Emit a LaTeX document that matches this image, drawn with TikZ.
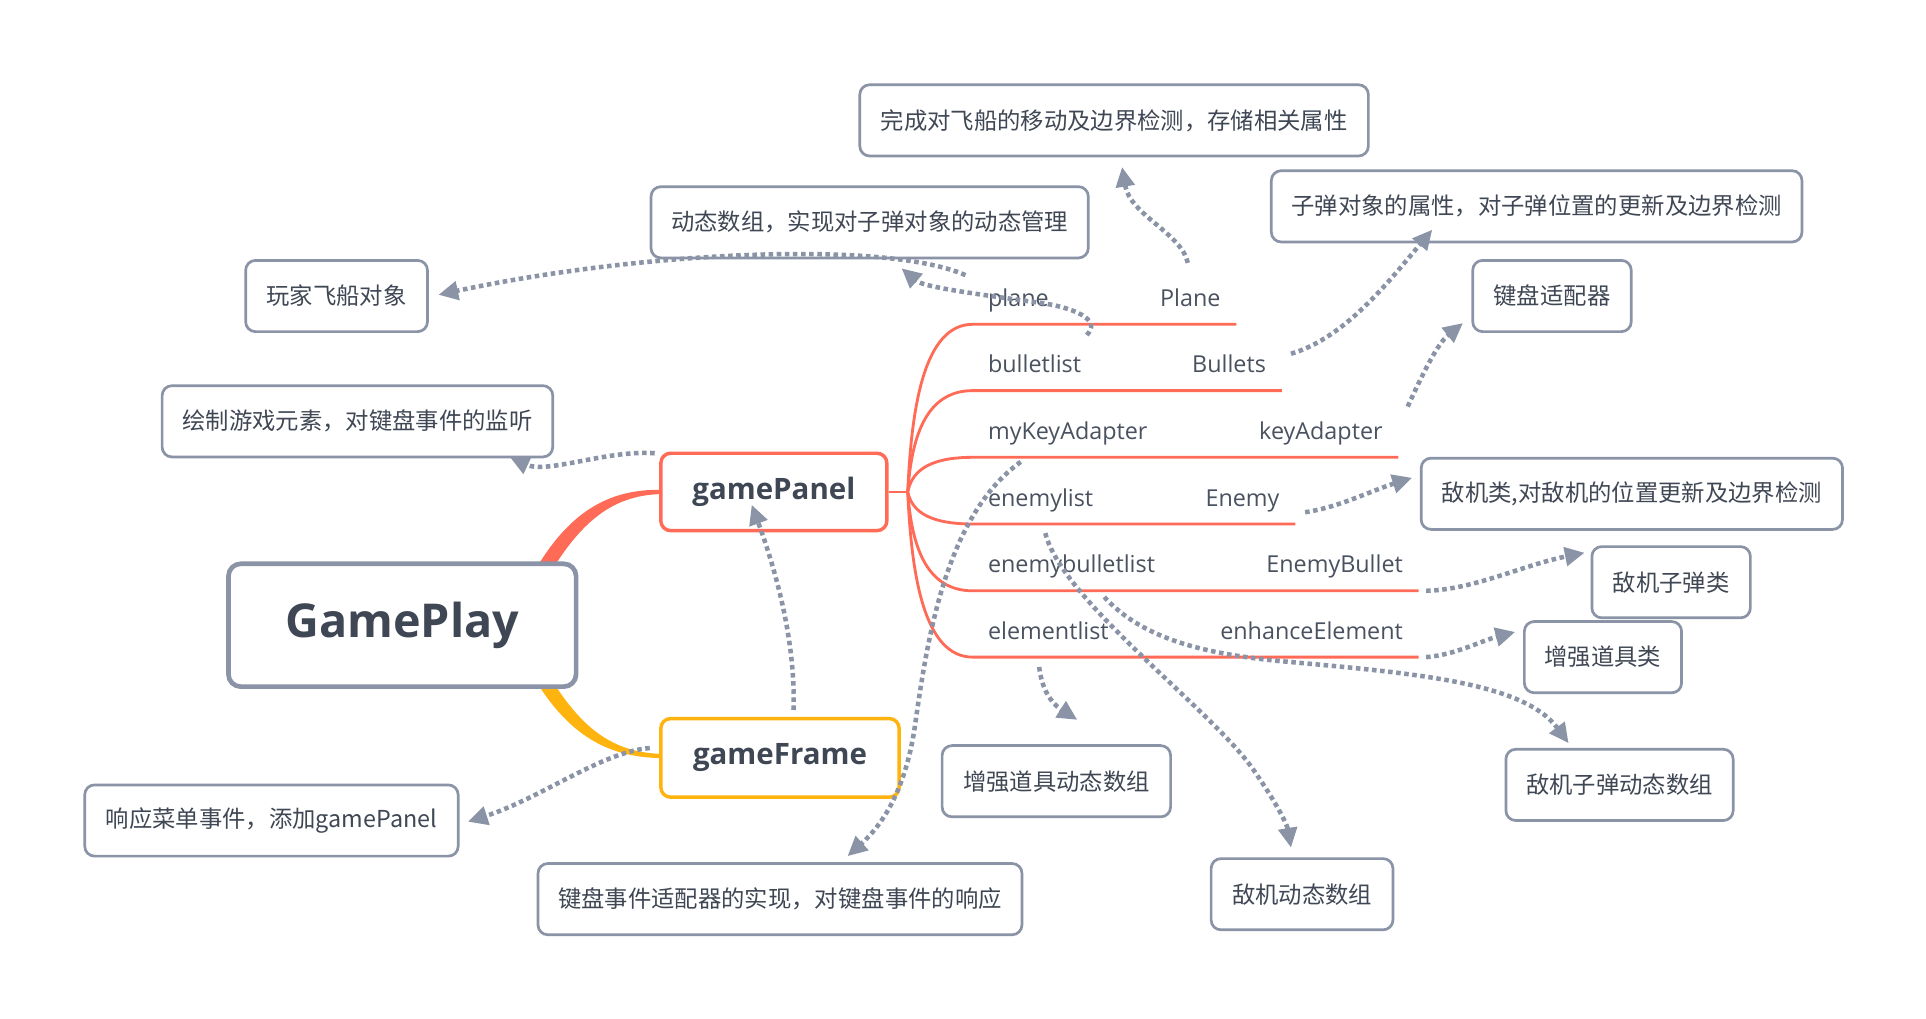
\documentclass[tikz,border=0pt]{standalone}
\usepackage{fontspec}
\setmainfont{Open Sans}
\newfontfamily\cjk{Noto Sans CJK SC}
\usetikzlibrary{arrows.meta}
\definecolor{gline}{HTML}{8A94A6}
\definecolor{redc}{HTML}{FF6B57}
\definecolor{yelc}{HTML}{FFB30F}
\definecolor{txt}{HTML}{404754}
\definecolor{lbl}{HTML}{4A5260}
\begin{document}
\begin{tikzpicture}[x=0.5pt,y=-0.5pt,
  gbox/.style={draw=gline, line width=1.1pt, rounded corners=4pt, fill=white, inner sep=0pt,
    minimum height=29pt, text=txt, font=\cjk\fontsize{9.5pt}{11pt}\selectfont},
  rel/.style={draw=gline, line width=1.85pt, dash pattern=on 1.85pt off 1.45pt,
    -{Triangle[length=8pt,width=7.5pt]}},
  brline/.style={draw=redc, line width=1.15pt},
  lab/.style={inner sep=0pt, text=lbl, font=\fontsize{9.5pt}{11pt}\selectfont},
  topicbox/.style={line width=1.4pt, rounded corners=4pt, fill=white, inner sep=0pt,
    text=txt, font=\bfseries\fontsize{12pt}{14pt}\selectfont},
]
\fill[white] (0,0) rectangle (1568,829);
\useasboundingbox (0,0) rectangle (1568,829);

% tapered main branches
\fill[redc] (428,478) .. controls (458,420) and (492,397.5) .. (540,398.8)
  -- (540,402.2) .. controls (496,402.5) and (468,428) .. (438,484) -- cycle;
\fill[yelc] (428,540) .. controls (458,596) and (492,617) .. (540,617.2)
  -- (540,613.8) .. controls (496,613) and (468,590) .. (438,534) -- cycle;

% central topics
\node[draw=gline, line width=1.9pt, rounded corners=5pt, fill=white, inner sep=0pt,
  minimum width=141.5pt, minimum height=50pt, text=txt,
  font=\bfseries\fontsize{19pt}{22pt}\selectfont] (root) at (327.5,509) {GamePlay};
\node[topicbox, draw=redc, minimum width=92pt, minimum height=31.5pt] (gp) at (630,400.5) {gamePanel};
\node[topicbox, draw=yelc, minimum width=97pt, minimum height=32pt] (gf) at (635,617) {gameFrame};

% sub-branches of gamePanel
\coordinate (jn) at (739,400.5);
\draw[brline] (gp.east) -- (jn);
\foreach \yy/\xe/\nm in {264/1006.5/pl, 318/1043.5/bl, 372.3/1138.5/ka, 426.6/1054.5/el, 481/1155/eb, 535/1155/ee}{
  \draw[brline] (jn) .. controls (742,{(400.5+\yy)/2}) and (752,\yy) .. (792,\yy) -- (\xe,\yy) coordinate (\nm);
}
\node[lab, anchor=base west] (lplane) at (804,249.4) {plane};
\node[lab, anchor=base east] (rplane) at (994,249.4) {Plane};
\node[lab, anchor=base west] (lbullet) at (804,303.4) {bulletlist};
\node[lab, anchor=base east] (rbullet) at (1031,303.4) {Bullets};
\node[lab, anchor=base west] (lkey) at (804,357.7) {myKeyAdapter};
\node[lab, anchor=base east] (rkey) at (1126,357.7) {keyAdapter};
\node[lab, anchor=base west] (lenemy) at (804,412) {enemylist};
\node[lab, anchor=base east] (renemy) at (1042,412) {Enemy};
\node[lab, anchor=base west] (lebul) at (804,466.4) {enemybulletlist};
\node[lab, anchor=base east] (rebul) at (1142.5,466.4) {EnemyBullet};
\node[lab, anchor=base west] (lelem) at (804,520.4) {elementlist};
\node[lab, anchor=base east] (relem) at (1142.5,520.4) {enhanceElement};

% note boxes
\node[gbox, minimum width=207pt] (b1) at (907,98) {完成对飞船的移动及边界检测，存储相关属性};
\node[gbox, minimum width=178pt] (b2) at (708,181) {动态数组，实现对子弹对象的动态管理};
\node[gbox, minimum width=216pt] (b3) at (1251,168) {子弹对象的属性，对子弹位置的更新及边界检测};
\node[gbox, minimum width=74pt] (b4) at (274,241) {玩家飞船对象};
\node[gbox, minimum width=64.5pt] (b5) at (1263.5,241) {键盘适配器};
\node[gbox, minimum width=159pt] (b6) at (291,343) {绘制游戏元素，对键盘事件的监听};
\node[gbox, minimum width=171.5pt] (b7) at (1328.5,402) {敌机类,对敌机的位置更新及边界检测};
\node[gbox, minimum width=64.5pt] (b8) at (1360.5,474) {敌机子弹类};
\node[gbox, minimum width=64pt] (b9) at (1305,535) {增强道具类};
\node[gbox, minimum width=93pt] (b10) at (860,636) {增强道具动态数组};
\node[gbox, minimum width=92.5pt] (b11) at (1318.5,639) {敌机子弹动态数组};
\node[gbox, minimum width=152pt] (b12) at (221,668) {响应菜单事件，添加gamePanel};
\node[gbox, minimum width=197pt] (b13) at (635,732) {键盘事件适配器的实现，对键盘事件的响应};
\node[gbox, minimum width=74pt] (b14) at (1060,728) {敌机动态数组};

% relationship end points
\coordinate (a0) at (884.7,272.7); \coordinate (a1) at (734,218.5);
\coordinate (bb0) at (786,224);    \coordinate (bb1) at (357,240);
\coordinate (c0) at (967,214);     \coordinate (c1) at (913.5,136);
\coordinate (d0) at (1051,288);    \coordinate (d1) at (1166,187);
\coordinate (e0) at (1146,331);    \coordinate (e1) at (1191,263);
\coordinate (f0) at (1062.5,417);  \coordinate (f1) at (1149.5,389);
\coordinate (g0) at (1161,481);    \coordinate (g1) at (1290,450);
\coordinate (h0) at (1161,535);    \coordinate (h1) at (1233.5,514.5);
\coordinate (i0) at (899,486);     \coordinate (i1) at (1277,605);
\coordinate (j0) at (851,434);     \coordinate (j1) at (1051,690);
\coordinate (k0) at (846,543);     \coordinate (k1) at (877,586);
\coordinate (l0) at (646,578);     \coordinate (l1) at (612,411);
\coordinate (m0) at (533,369);     \coordinate (m1) at (415,372);
\coordinate (n0) at (529,609);     \coordinate (n1) at (381,669);
\coordinate (o0) at (831,376);     \coordinate (o1) at (690,697);

% relationships
\draw[rel] (a0) .. controls (896,262) and (880,252) .. (850,247) .. controls (800,240) and (752,234) .. (a1);
\draw[rel] (bb0) .. controls (720,195) and (520,205) .. (bb1);
\draw[rel] (c0) .. controls (962,190) and (920,175) .. (c1);
\draw[rel] (d0) .. controls (1095,275) and (1130,230) .. (d1);
\draw[rel] (e0) .. controls (1158,305) and (1170,280) .. (e1);
\draw[rel] (f0) .. controls (1090,413) and (1115,400) .. (f1);
\draw[rel] (g0) .. controls (1200,480) and (1240,460) .. (g1);
\draw[rel] (h0) .. controls (1185,533) and (1205,522) .. (h1);
\draw[rel] (i0) .. controls (930,520) and (980,532) .. (1040,538) .. controls (1150,548) and (1240,555) .. (i1);
\draw[rel] (j0) .. controls (865,490) and (990,580) .. (1022,629) .. controls (1040,655) and (1048,672) .. (j1);
\draw[rel] (k0) .. controls (848,560) and (855,572) .. (k1);
\draw[rel] (l0) .. controls (648,520) and (630,460) .. (l1);
\draw[rel] (m0) .. controls (495,366) and (445,386) .. (m1);
\draw[rel] (n0) .. controls (490,612) and (440,650) .. (n1);
\draw[rel] (o0) .. controls (770,420) and (755,520) .. (745,590) .. controls (738,640) and (720,670) .. (o1);
\end{tikzpicture}
\end{document}
